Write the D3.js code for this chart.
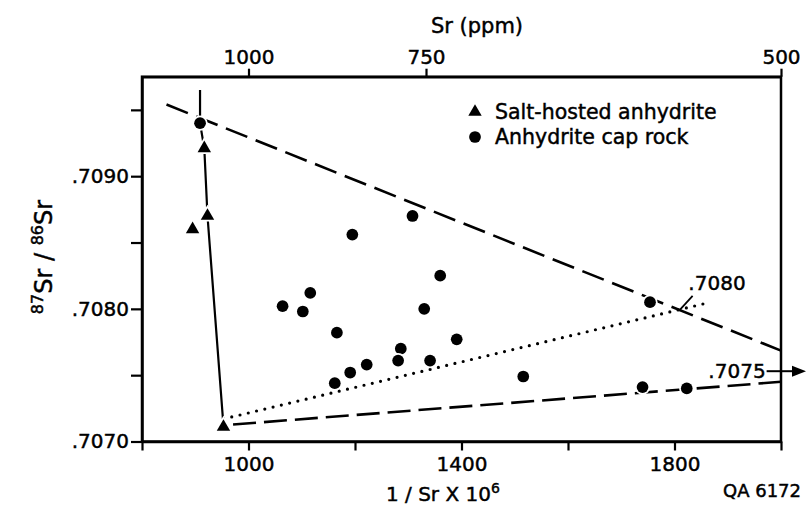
<!DOCTYPE html>
<html>
<head>
<meta charset="utf-8">
<script src="https://cdn.jsdelivr.net/npm/d3@7/dist/d3.min.js"></script>
<style>
  html, body { margin: 0; padding: 0; background: #fff; }
  svg { display: block; }
  text { font-family: "DejaVu Sans", sans-serif; fill: #000; stroke: #000; stroke-width: 0.45px; }
</style>
</head>
<body>
<script>
// ---------------- data ----------------
const saltX = [917, 923, 895, 953];
const saltY = [0.70921, 0.70870, 0.70860, 0.70711];

const capX = [909, 1308, 1195, 1360, 1116, 1064, 1102, 1330, 1166, 1286,
              1281, 1341, 1222, 1191, 1162, 1391, 1516, 1754, 1740, 1823];
const capY = [0.70940, 0.70870, 0.70856, 0.70825, 0.70812, 0.70802, 0.70798, 0.70800, 0.70782, 0.70770,
              0.70761, 0.70761, 0.70758, 0.70752, 0.70744, 0.70777, 0.70749, 0.70805, 0.70741, 0.70740];

// mixing lines (data units)
const solidLine = [[909, 0.70965], [909, 0.70940], [917, 0.70921], [923, 0.70870], [952, 0.70717]];
const upperDashLine = [[846, 0.70954], [2000, 0.707685]];
const lowerDashLine = [[971, 0.707128], [2000, 0.70745]];
const dottedLine = [[953, 0.70717], [1857, 0.70804]];

const bottomTicks = [800, 1000, 1200, 1400, 1600, 1800, 2000];
const bottomLabels = {1000: "1000", 1400: "1400", 1800: "1800"};
const topTicks = [1000, 1e6 / 750, 2000];
const topLabels = ["1000", "750", "500"];
const leftTicks = [0.7070, 0.7075, 0.7080, 0.7085, 0.7090, 0.7095];
const leftLabels = {"0.707": ".7070", "0.708": ".7080", "0.709": ".7090"};

const legendItems = ["Salt-hosted anhydrite", "Anhydrite cap rock"];
const label7080 = {x: 1826, y: 0.708142, text: ".7080", lead: [[1810, 0.707992], [1834, 0.708097]]};
const arrow7075 = {y: 0.70753, text: ".7075", x0: 1973, x1: 2047};

// ---------------- layout ----------------
const W = 811, H = 506;
const svg = d3.select("body").append("svg").attr("width", W).attr("height", H);

const x = d3.scaleLinear().domain([800, 2000]).range([142, 781]);
const y = d3.scaleLinear().domain([0.7070, 0.70975]).range([441.5, 76.7]);

const FONT = 20;

// frame
svg.append("rect")
  .attr("x", x(800)).attr("y", y(0.70975))
  .attr("width", x(2000) - x(800)).attr("height", y(0.7070) - y(0.70975))
  .attr("fill", "none").attr("stroke", "#000").attr("stroke-width", 2.5);

// bottom axis
const gB = svg.append("g").attr("transform", `translate(0,${y(0.7070)})`)
  .call(d3.axisBottom(x).tickValues(bottomTicks).tickSize(9).tickSizeOuter(0).tickPadding(6)
    .tickFormat(d => bottomLabels[d] || ""));
// top axis
const gT = svg.append("g").attr("transform", `translate(0,${y(0.70975)})`)
  .call(d3.axisTop(x).tickValues(topTicks).tickSize(8).tickSizeOuter(0).tickPadding(5)
    .tickFormat((d, i) => topLabels[i]));
// left axis
const gL = svg.append("g").attr("transform", `translate(${x(800)},0)`)
  .call(d3.axisLeft(y).tickValues(leftTicks).tickSize(11).tickSizeOuter(0).tickPadding(2)
    .tickFormat(d => leftLabels[String(+d.toFixed(4))] || ""));

[gB, gT, gL].forEach(g => {
  g.attr("font-family", null).attr("font-size", null);
  g.select(".domain").attr("stroke-width", 2.5);
  g.selectAll(".tick line").attr("stroke-width", 2.2);
  g.selectAll(".tick text").style("font-size", FONT + "px").attr("fill", "#000");
});

// lines
const line = d3.line().x(d => x(d[0])).y(d => y(d[1]));
svg.append("path").attr("d", line(solidLine))
  .attr("fill", "none").attr("stroke", "#000").attr("stroke-width", 2.2);
svg.append("path").attr("d", line(upperDashLine))
  .attr("fill", "none").attr("stroke", "#000").attr("stroke-width", 2.6)
  .attr("stroke-dasharray", "23,9");
svg.append("path").attr("d", line(lowerDashLine))
  .attr("fill", "none").attr("stroke", "#000").attr("stroke-width", 2.6)
  .attr("stroke-dasharray", "23,8");
svg.append("path").attr("d", line(dottedLine))
  .attr("fill", "none").attr("stroke", "#000").attr("stroke-width", 3.2)
  .attr("stroke-linecap", "round").attr("stroke-dasharray", "0,8.5");

// markers
const triSym = d3.symbol().type(d3.symbolTriangle).size(78);
const cirSym = d3.symbol().type(d3.symbolCircle).size(108);

svg.append("g").selectAll("path").data(capX.map((v, i) => [v, capY[i]])).join("path")
  .attr("d", cirSym).attr("transform", d => `translate(${x(d[0])},${y(d[1])})`)
  .attr("fill", "#000").attr("stroke", "#fff").attr("stroke-width", 3.5).attr("paint-order", "stroke");
svg.append("g").selectAll("path").data(saltX.map((v, i) => [v, saltY[i]])).join("path")
  .attr("d", triSym).attr("transform", d => `translate(${x(d[0])},${y(d[1])})`)
  .attr("fill", "#000").attr("stroke", "#fff").attr("stroke-width", 3.5).attr("paint-order", "stroke");

// annotation .7080
svg.append("path").attr("d", line(label7080.lead))
  .attr("fill", "none").attr("stroke", "#000").attr("stroke-width", 1.8);
svg.append("text").attr("x", x(label7080.x)).attr("y", y(label7080.y))
  .style("font-size", FONT + "px").text(label7080.text);

// annotation .7075 arrow
svg.append("text").attr("x", x(arrow7075.x0) - 1).attr("y", y(arrow7075.y) + 7)
  .attr("text-anchor", "end").style("font-size", FONT + "px").text(arrow7075.text);
svg.append("line").attr("x1", x(arrow7075.x0)).attr("x2", x(arrow7075.x1) - 12)
  .attr("y1", y(arrow7075.y)).attr("y2", y(arrow7075.y))
  .attr("stroke", "#000").attr("stroke-width", 2);
const ax = x(arrow7075.x1), ay = y(arrow7075.y);
svg.append("path").attr("d", `M${ax},${ay} L${ax - 14},${ay - 5.5} L${ax - 14},${ay + 5.5} Z`).attr("fill", "#000");

// legend
const leg = svg.append("g");
leg.append("path").attr("d", triSym).attr("transform", "translate(475,112)").attr("fill", "#000");
leg.append("path").attr("d", cirSym).attr("transform", "translate(475,137)").attr("fill", "#000");
leg.append("text").attr("x", 495).attr("y", 119).style("font-size", "20.5px").text(legendItems[0]);
leg.append("text").attr("x", 495).attr("y", 144).style("font-size", "20.5px").text(legendItems[1]);

// axis titles
svg.append("text").attr("x", 477).attr("y", 33).attr("text-anchor", "middle")
  .style("font-size", "21px").text("Sr (ppm)");

const bt = svg.append("text").attr("x", 386).attr("y", 501).style("font-size", "20px");
bt.append("tspan").text("1 / Sr X 10");
bt.append("tspan").attr("dy", -8).style("font-size", "14px").text("6");

const yl = svg.append("text").attr("transform", "translate(52,257) rotate(-90)")
  .attr("text-anchor", "middle").style("font-size", "24px");
yl.append("tspan").attr("dy", -9).style("font-size", "16px").text("87");
yl.append("tspan").attr("dy", 9).text("Sr / ");
yl.append("tspan").attr("dy", -9).style("font-size", "16px").text("86");
yl.append("tspan").attr("dy", 9).text("Sr");

svg.append("text").attr("x", 723).attr("y", 497).style("font-size", "18px").text("QA 6172");
</script>
</body>
</html>
